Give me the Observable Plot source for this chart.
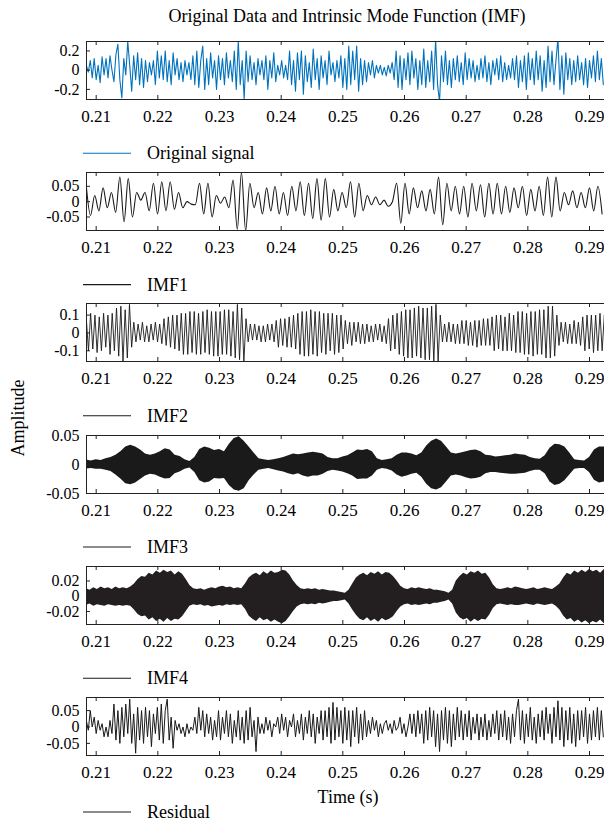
<!DOCTYPE html>
<html><head><meta charset="utf-8">
<script src="https://cdn.jsdelivr.net/npm/d3@7"></script>
<script src="https://cdn.jsdelivr.net/npm/@observablehq/plot@0.6"></script>
<style>
html,body{margin:0;padding:0;background:#fff;overflow:hidden}
#fig{position:relative;width:604px;height:824px;overflow:hidden;background:#fff}
#fig svg{position:absolute;left:0;max-width:none !important}
</style></head><body><div id="fig"></div>
<script>
// ---------- data ----------
const title = "Original Data and Intrinsic Mode Function (IMF)";
const xLabel = "Time (s)";
const yLabel = "Amplitude";
const seriesNames = ["Original signal", "IMF1", "IMF2", "IMF3", "IMF4", "Residual"];
const xTicks = [0.21, 0.22, 0.23, 0.24, 0.25, 0.26, 0.27, 0.28, 0.29];
const yTicks1 = [-0.2, 0, 0.2];
const yTicks2 = [-0.05, 0, 0.05];
const yTicks3 = [-0.1, 0, 0.1];
const yTicks4 = [-0.05, 0, 0.05];
const yTicks5 = [-0.02, 0, 0.02];
const yTicks6 = [-0.05, 0, 0.05];
const tStart = 0.2084;

// Original signal, sample step 0.00032 s
const origStep = 0.00032;
const original = [
.05,-.02,.1,-.08,.12,-.1,.05,-.13,.14,-.05,
.12,-.08,.15,0,-.12,.16,.27,-.1,-.29,.12,
-.05,.3,.05,-.22,.15,-.1,.18,-.15,.12,-.18,
.1,-.12,.08,-.05,.1,-.15,.2,-.08,.15,-.1,
.2,-.12,.1,-.15,.18,-.05,.12,-.1,.08,-.12,
.1,-.05,.08,-.1,.15,-.15,.2,-.18,.1,.25,
-.2,.12,-.15,.18,-.08,.1,-.2,.15,-.1,.12,
-.15,.18,-.08,.1,-.12,.2,-.2,.3,-.15,.1,
-.3,.2,-.12,.15,-.1,.08,-.15,.12,-.05,.1,
-.1,.15,-.2,.1,-.08,.18,-.12,.05,-.05,.1,
-.08,.05,-.1,.2,-.15,.1,-.22,.18,-.1,.2,
-.25,.15,-.12,.08,-.18,.22,-.1,.12,-.2,.15,
-.08,.1,-.15,.2,-.05,.08,-.12,.1,-.08,.15,
-.18,.12,-.2,.25,-.15,.2,-.1,.25,-.22,.12,
-.15,.1,-.12,.08,-.05,.1,-.08,.05,-.03,.05,
-.05,.03,-.06,.05,-.03,.08,-.1,.2,-.18,.15,
-.2,.12,-.1,.18,-.15,.2,-.08,.12,-.2,.1,
-.15,.22,-.18,.1,-.12,.2,-.2,.32,-.15,-.33,
.15,-.12,.2,-.15,.1,-.18,.12,-.1,.15,-.12,
.08,-.15,.18,-.1,.12,-.08,.1,-.12,.05,-.1,
.12,-.08,.15,-.12,.08,-.15,.1,-.05,.12,-.1,
.15,-.12,.08,-.1,.05,-.08,.12,-.1,.15,-.18,
.1,-.12,.15,-.2,.18,-.1,.12,-.15,.2,-.1,
.15,-.22,.1,-.18,.25,-.12,.2,-.15,.1,.33,
-.2,.15,-.25,.18,-.1,.12,-.15,.1,-.12,.15,
-.1,.08,-.15,.12,-.18,.1,-.08,.15,-.12,.2,-.1,.12,-.15];

// IMF1 extrema, step 0.00068 s
const imf1Step = 0.00068;
const imf1 = [
.05,-.045,.02,-.03,.045,-.02,.03,-.035,.08,-.065,
.075,-.05,.03,.005,.03,-.03,.06,-.04,.065,-.03,
.065,-.025,.03,-.02,0,-.008,-.01,.06,-.04,.06,
-.05,.02,-.005,.015,-.02,.07,-.09,.095,-.095,.06,
-.02,.03,-.04,.045,-.03,.05,-.04,.03,-.045,.05,
-.03,.065,-.045,.06,-.055,.075,-.06,.075,-.05,.04,
-.03,.03,-.02,.065,-.05,.06,-.03,.02,-.01,.015,
-.01,.005,-.015,0,.06,-.07,.06,-.04,.045,-.02,
.035,-.03,.04,-.04,.08,-.075,.06,-.03,.05,-.04,
.05,-.05,.06,-.03,.055,-.05,.06,-.04,.06,-.04,
.05,-.035,.045,-.02,.05,-.045,.04,-.03,.05,-.045,
.08,-.05,.08,-.03,.03,-.01,.035,-.02,.03,-.02,
.045,-.03,.05,-.04];

// IMF2 extrema, step 0.00035 s
const imf2Step = 0.00035;
const imf2 = [
.08,-.1,.11,-.09,.1,-.11,.09,-.1,.11,-.08,
.1,-.12,.11,-.1,.14,-.13,.15,-.16,.13,-.14,
.16,-.08,.06,-.05,.05,-.04,.06,-.05,.04,-.05,
.05,-.04,.06,-.05,.05,-.06,.08,-.07,.09,-.08,
.1,-.09,.1,-.1,.11,-.12,.11,-.12,.12,-.11,
.12,-.12,.11,-.12,.12,-.11,.13,-.12,.12,-.13,
.12,-.13,.12,-.12,.13,-.12,.13,-.13,.12,-.14,
.16,-.15,.14,-.16,.08,-.05,.05,-.04,.05,-.04,
.04,-.05,.04,-.05,.05,-.04,.05,-.05,.07,-.08,
.08,-.07,.08,-.08,.09,-.08,.1,-.09,.11,-.12,
.12,-.13,.12,-.13,.13,-.12,.12,-.13,.12,-.11,
.11,-.12,.11,-.1,.11,-.12,.1,-.11,.1,-.09,
.07,-.06,.06,-.07,.06,-.05,.06,-.06,.05,-.06,
.05,-.05,.04,-.05,.05,-.04,.05,-.05,.04,-.06,
.08,-.1,.1,-.09,.11,-.12,.12,-.13,.13,-.14,
.13,-.14,.14,-.13,.15,-.14,.14,-.15,.14,-.15,
.15,-.16,.16,-.16,.1,-.05,.05,-.05,.06,-.05,
.05,-.06,.05,-.06,.07,-.06,.07,-.07,.06,-.07,
.07,-.08,.07,-.07,.08,-.07,.08,-.07,.09,-.1,
.1,-.09,.1,-.1,.09,-.1,.11,-.1,.1,-.11,
.12,-.11,.12,-.12,.11,-.12,.12,-.13,.12,-.12,
.13,-.12,.13,-.14,.15,-.14,.15,-.13,.1,-.07,
.06,-.05,.06,-.06,.05,-.06,.07,-.06,.06,-.07,
.09,-.1,.1,-.09,.1,-.11,.1,-.1,.11,-.1,.1];

// IMF3 envelope (upper / lower), step 0.0008 s
const imf3Step = 0.0008;
const imf3Upper = [
.008,.006,.008,.007,.01,.012,.016,.022,.03,.033,
.03,.025,.018,.016,.018,.022,.027,.025,.016,.014,
.008,.005,.012,.026,.03,.028,.024,.026,.022,.035,
.045,.048,.04,.03,.02,.01,.008,.007,.008,.01,
.012,.015,.018,.017,.018,.02,.021,.02,.018,.012,
.01,.01,.013,.015,.02,.025,.024,.026,.022,.01,
.007,.008,.01,.016,.02,.02,.018,.015,.02,.032,
.04,.044,.04,.03,.02,.018,.02,.022,.024,.025,
.022,.016,.015,.013,.014,.015,.016,.018,.017,.016,
.012,.01,.009,.015,.028,.035,.034,.03,.02,.008,
.007,.006,.012,.025,.03,.03,.032];
const imf3Lower = [
-.008,-.007,-.008,-.008,-.01,-.012,-.018,-.025,-.033,-.035,
-.032,-.026,-.02,-.017,-.018,-.022,-.025,-.024,-.016,-.013,
-.008,-.006,-.014,-.028,-.032,-.03,-.024,-.025,-.024,-.036,
-.044,-.046,-.042,-.028,-.018,-.01,-.008,-.007,-.009,-.011,
-.013,-.016,-.018,-.016,-.02,-.022,-.02,-.02,-.017,-.012,
-.01,-.011,-.013,-.016,-.02,-.026,-.025,-.025,-.02,-.01,
-.007,-.008,-.011,-.018,-.022,-.02,-.017,-.015,-.022,-.034,
-.042,-.044,-.04,-.03,-.02,-.018,-.02,-.023,-.025,-.024,
-.022,-.016,-.014,-.014,-.015,-.016,-.017,-.017,-.016,-.015,
-.012,-.01,-.01,-.016,-.03,-.036,-.034,-.028,-.018,-.008,
-.007,-.007,-.014,-.027,-.032,-.03,-.033];

// IMF4 envelope (upper / lower), step 0.0006 s
const imf4Step = 0.0006;
const imf4Upper = [
.01,.008,.011,.009,.012,.01,.011,.009,.012,.01,
.011,.01,.012,.016,.022,.026,.025,.03,.028,.033,
.03,.034,.031,.033,.028,.032,.029,.022,.014,.01,
.009,.01,.008,.01,.011,.01,.012,.013,.011,.012,
.01,.011,.01,.016,.024,.028,.03,.027,.032,.029,
.033,.03,.031,.034,.033,.028,.02,.014,.01,.009,
.01,.009,.01,.008,.009,.008,.007,.007,.006,.005,
.004,.008,.016,.024,.028,.03,.027,.031,.029,.032,
.028,.031,.03,.026,.02,.013,.01,.009,.011,.01,
.011,.01,.009,.01,.008,.008,.007,.006,.004,.008,
.02,.026,.03,.028,.032,.03,.033,.029,.03,.024,
.015,.01,.009,.01,.011,.01,.012,.011,.01,.009,
.01,.011,.009,.01,.011,.01,.009,.012,.016,.024,
.03,.028,.033,.03,.034,.031,.035,.032,.034,.03,.035,.033,.034];
const imf4Lower = [
-.012,-.01,-.013,-.011,-.012,-.013,-.011,-.012,-.013,-.012,
-.013,-.012,-.013,-.018,-.024,-.027,-.026,-.031,-.028,-.033,
-.03,-.034,-.029,-.033,-.03,-.031,-.027,-.02,-.013,-.011,
-.012,-.011,-.013,-.012,-.014,-.013,-.012,-.013,-.011,-.012,
-.011,-.012,-.011,-.017,-.026,-.03,-.033,-.028,-.032,-.03,
-.034,-.031,-.034,-.036,-.033,-.027,-.02,-.014,-.011,-.01,
-.011,-.01,-.011,-.009,-.01,-.009,-.008,-.007,-.007,-.006,
-.005,-.01,-.018,-.025,-.03,-.032,-.028,-.033,-.03,-.034,
-.029,-.032,-.03,-.027,-.02,-.014,-.011,-.01,-.012,-.011,
-.012,-.011,-.01,-.011,-.009,-.009,-.008,-.007,-.005,-.01,
-.022,-.028,-.031,-.029,-.034,-.03,-.033,-.03,-.031,-.025,
-.016,-.011,-.01,-.011,-.012,-.011,-.012,-.012,-.011,-.01,
-.011,-.012,-.01,-.011,-.012,-.011,-.01,-.013,-.018,-.026,
-.031,-.029,-.034,-.031,-.035,-.032,-.036,-.033,-.035,-.031,-.036,-.034,-.035];

// Residual, step 0.00032 s
const residualStep = 0.00032;
const residual = [
.02,-.01,.05,0,.03,-.02,.02,-.01,.01,-.03,
0,-.03,.02,-.02,.07,-.04,.05,-.05,.06,-.03,
.07,-.02,.085,-.05,.04,-.08,.06,-.04,.05,-.05,
.06,-.03,.05,-.06,.04,-.02,.06,-.04,.07,-.05,
.05,.085,-.04,.03,-.065,.02,-.01,.01,-.02,0,
-.03,.01,-.02,0,-.01,.03,-.02,.06,-.01,.05,
-.03,.04,-.02,.03,-.04,.02,-.03,.05,-.04,.03,
-.02,.05,-.03,.04,-.05,.02,-.03,.05,-.04,.03,
-.05,.05,-.04,.06,-.03,.02,-.075,.03,-.02,.01,
-.02,.03,-.01,.02,-.03,.01,0,.03,-.02,.04,
-.01,.03,-.03,.02,0,.04,-.03,.02,-.02,.04,
-.04,.03,-.02,.05,-.03,.04,-.05,.03,-.02,.05,
-.04,.05,-.03,.06,-.05,.075,-.04,.06,-.03,.05,
-.05,.06,-.04,.05,-.06,.05,-.03,.06,-.05,.04,
-.04,.05,-.03,.02,-.02,.03,-.01,.02,-.03,.01,
-.02,.01,.02,-.01,.01,-.02,.02,-.01,0,.03,
-.02,.01,-.03,0,.04,-.02,.04,-.03,.05,-.02,
.04,-.05,.05,-.04,.06,-.03,.05,-.06,.04,-.075,
.05,-.04,.06,-.05,.05,-.06,.04,-.04,.06,-.03,
.05,-.04,.04,-.03,.05,-.04,.03,-.02,.04,-.04,
.03,-.03,.04,-.04,.02,-.03,.04,-.02,.05,-.04,
.04,-.03,.05,-.04,.03,-.05,.04,-.03,.05,.085,
-.04,.05,-.05,.04,-.03,.06,-.04,.03,-.05,.04,
-.03,.05,-.04,.06,-.02,.04,-.05,.06,-.03,.08,
-.04,.06,-.06,.05,-.04,.06,-.05,.04,-.06,.05,
-.04,.05,-.03,.06,-.05,.04,-.04,.05,-.03,.06,-.04,.05,-.03];

// ---------- build tables ----------
const series = (vals, step) => vals.map((v, i) => ({t: tStart + i * step, v}));
const band = (up, lo, step) => up.map((u, i) => ({t: tStart + i * step, hi: u, lo: lo[i]}));

const W = 700, ML = 86, MT = 1, IH = 58, MB = 34;
const xDomain = [0.20843, 0.308];
const font = "'Liberation Serif', 'Times New Roman', serif";
const FS_TEXT = 18, FS_XT = 17, FS_YT = 16;
const ink = "#1a1a1a";

const panels = [
  {top: 40,  y: [-0.305, 0.298], ticks: yTicks1, mark: () => Plot.line(series(original, origStep), {x: "t", y: "v", stroke: "#0072BD", strokeWidth: 1.1, clip: true})},
  {top: 171, y: [-0.094, 0.095], ticks: yTicks2, mark: () => Plot.line(series(imf1, imf1Step), {x: "t", y: "v", stroke: ink, strokeWidth: 1.1, curve: "monotone-x", clip: true})},
  {top: 302, y: [-0.16, 0.165], ticks: yTicks3, mark: () => Plot.line(series(imf2, imf2Step), {x: "t", y: "v", stroke: ink, strokeWidth: 0.9, clip: true})},
  {top: 434, y: [-0.05, 0.05], ticks: yTicks4, mark: () => Plot.areaY(band(imf3Upper, imf3Lower, imf3Step), {x: "t", y1: "lo", y2: "hi", fill: ink, clip: true})},
  {top: 565, y: [-0.037, 0.039], ticks: yTicks5, mark: () => Plot.areaY(band(imf4Upper, imf4Lower, imf4Step), {x: "t", y1: "lo", y2: "hi", fill: "#231f20", clip: true})},
  {top: 696, y: [-0.087, 0.09], ticks: yTicks6, mark: () => Plot.line(series(residual, residualStep), {x: "t", y: "v", stroke: ink, strokeWidth: 1, clip: true})}
];

const fig = document.getElementById("fig");
const IW = W - ML;
for (const p of panels) {
  const svg = Plot.plot({
    width: W, height: MT + IH + MB,
    marginLeft: ML, marginRight: 0, marginTop: MT, marginBottom: MB,
    style: {fontFamily: font, fontSize: FS_XT + "px", background: "transparent", color: "#000", overflow: "visible", maxWidth: "none"},
    x: {domain: xDomain},
    y: {domain: p.y},
    marks: [
      p.mark(),
      Plot.ruleX(xTicks, {x: d => d, insetTop: IH - 4, stroke: "#222"}),
      Plot.ruleX(xTicks, {x: d => d, insetBottom: IH - 4, stroke: "#222"}),
      Plot.ruleY(p.ticks, {y: d => d, insetRight: IW - 4, stroke: "#222"}),
      Plot.frame({stroke: "#222"}),
      Plot.axisX({ticks: xTicks, tickSize: 0, tickPadding: 10, tickFormat: d => d.toFixed(2), label: null, fontSize: FS_XT}),
      Plot.axisY({ticks: p.ticks, tickSize: 0, tickPadding: 7, tickFormat: d => String(d), label: null, fontSize: FS_YT})
    ]
  });
  svg.style.top = p.top + "px";
  svg.style.width = W + "px";
  svg.style.height = (MT + IH + MB) + "px";
  fig.appendChild(svg);
}

// ---------- overlay texts: title, labels, legends ----------
const ov = d3.select(fig).append("svg").attr("width", 604).attr("height", 824).style("top", "0px")
  .attr("font-family", font).attr("font-size", FS_TEXT).attr("fill", "#000");
ov.append("text").attr("x", 347).attr("y", 22).attr("text-anchor", "middle").text(title);
ov.append("text").attr("x", 348).attr("y", 803).attr("text-anchor", "middle").text(xLabel);
ov.append("text").attr("transform", "translate(24,418) rotate(-90)").attr("text-anchor", "middle").text(yLabel);
const legendY = [153.3, 284.6, 415.8, 547, 678.3, 812];
const legendColor = ["#0072BD", ink, ink, ink, ink, ink];
seriesNames.forEach((name, i) => {
  ov.append("line").attr("x1", 83).attr("x2", 131).attr("y1", legendY[i]).attr("y2", legendY[i])
    .attr("stroke", legendColor[i]).attr("stroke-width", 1.1);
  ov.append("text").attr("x", 147).attr("y", legendY[i] + 6).text(name);
});
</script></body></html>
